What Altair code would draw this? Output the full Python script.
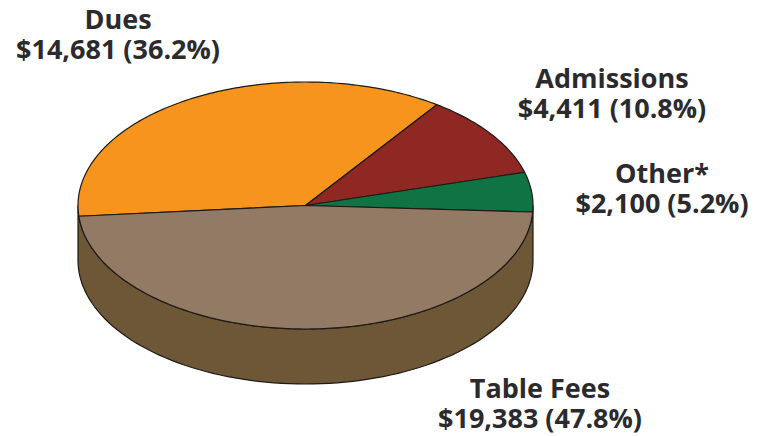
import math
import altair as alt
import pandas as pd

# Revenue by source, in dollars, listed clockwise from the left edge of the pie
names = ["Dues", "Admissions", "Other*", "Table Fees"]
amounts = [14681, 4411, 2100, 19383]
shares = [36.2, 10.8, 5.2, 47.8]
fills = ["#f7941d", "#8f2723", "#0f7344", "#937a65"]
side_fill = "#6d5737"
outline = "#1d1a17"
ink = "#2b2a2d"

# Ellipse used for the tilted disc
WIDTH, HEIGHT = 761, 436
CX, CY, RX, RY, DEPTH = 305.5, 205.5, 227.5, 123.5, 55
START_ANGLE = 185.0

# Where each two-line caption is centred
caption_anchor = {
    "Dues": (118, 36),
    "Admissions": (612, 95),
    "Other*": (662, 190),
    "Table Fees": (540, 405),
}
LINE_GAP = 15


def rim(angle, drop=0.0):
    rad = math.radians(angle)
    return CX + RX * math.cos(rad), CY - RY * math.sin(rad) + drop


def slice_outline(start, sweep):
    steps = max(int(abs(sweep)), 2)
    pts = [(CX, CY)]
    pts += [rim(start + sweep * i / steps) for i in range(steps + 1)]
    pts.append((CX, CY))
    return pts


def side_outline():
    upper = [rim(a) for a in range(180, 361, 2)]
    lower = [rim(a, DEPTH) for a in range(360, 179, -2)]
    return upper + lower + [upper[0]]


x_scale = alt.Scale(domain=[0, WIDTH], range=[0, WIDTH])
y_scale = alt.Scale(domain=[0, HEIGHT], range=[0, HEIGHT])


def polygon(points, color):
    frame = pd.DataFrame(points, columns=["x", "y"])
    frame["step"] = range(len(frame))
    return (
        alt.Chart(frame)
        .mark_line(fill=color, stroke=outline, strokeWidth=1.2, strokeJoin="round", interpolate="linear")
        .encode(
            x=alt.X("x:Q", scale=x_scale, axis=None),
            y=alt.Y("y:Q", scale=y_scale, axis=None),
            order="step:Q",
        )
    )


layers = [polygon(side_outline(), side_fill)]

# Sweep each slice clockwise in proportion to its dollar amount
total = sum(amounts)
angle = START_ANGLE
for name, amount, color in zip(names, amounts, fills):
    sweep = -360.0 * amount / total
    layers.append(polygon(slice_outline(angle, sweep), color))
    angle += sweep

rows = []
for name, amount, share in zip(names, amounts, shares):
    ax, ay = caption_anchor[name]
    rows.append({"x": ax, "y": ay - LINE_GAP, "label": name})
    rows.append({"x": ax, "y": ay + LINE_GAP, "label": f"${amount:,} ({share}%)"})

captions = (
    alt.Chart(pd.DataFrame(rows))
    .mark_text(font="Open Sans", fontWeight="bold", fontSize=27, color=ink, align="center", baseline="middle")
    .encode(
        x=alt.X("x:Q", scale=x_scale, axis=None),
        y=alt.Y("y:Q", scale=y_scale, axis=None),
        text="label:N",
    )
)

chart = (
    alt.layer(*layers, captions)
    .properties(width=WIDTH, height=HEIGHT, padding=0, autosize=alt.AutoSizeParams(type="none"), background="white")
    .configure_view(stroke=None)
)

chart.save("out.html", embed_options={"renderer": "svg", "actions": False})
